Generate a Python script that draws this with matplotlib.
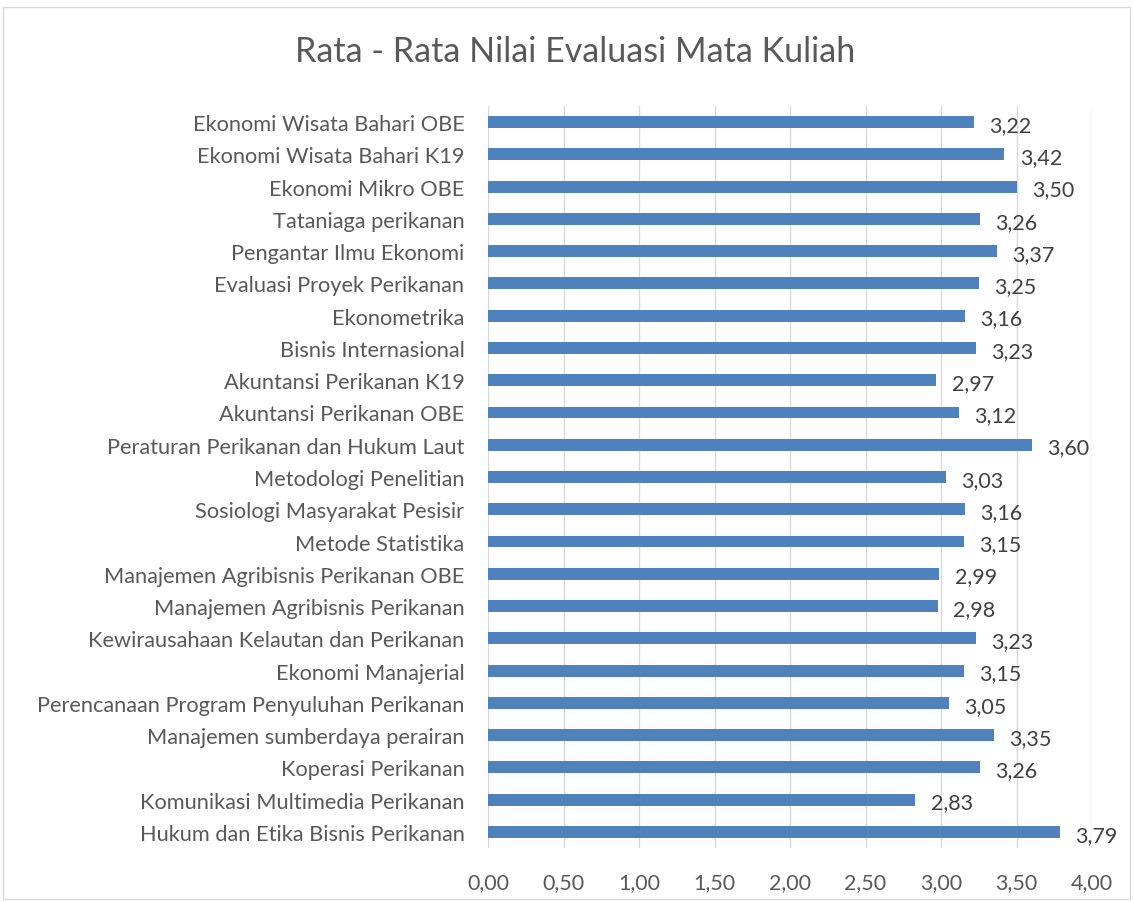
import matplotlib
matplotlib.use("Agg")
from matplotlib import pyplot as plt
from matplotlib.patches import Rectangle

courses = [
    "Ekonomi Wisata Bahari OBE",
    "Ekonomi Wisata Bahari K19",
    "Ekonomi Mikro OBE",
    "Tataniaga perikanan",
    "Pengantar Ilmu Ekonomi",
    "Evaluasi Proyek Perikanan",
    "Ekonometrika",
    "Bisnis Internasional",
    "Akuntansi Perikanan K19",
    "Akuntansi Perikanan OBE",
    "Peraturan Perikanan dan Hukum Laut",
    "Metodologi Penelitian",
    "Sosiologi Masyarakat Pesisir",
    "Metode Statistika",
    "Manajemen Agribisnis Perikanan OBE",
    "Manajemen Agribisnis Perikanan",
    "Kewirausahaan Kelautan dan Perikanan",
    "Ekonomi Manajerial",
    "Perencanaan Program Penyuluhan Perikanan",
    "Manajemen sumberdaya perairan",
    "Koperasi Perikanan",
    "Komunikasi Multimedia Perikanan",
    "Hukum dan Etika Bisnis Perikanan",
]
scores = [3.22, 3.42, 3.50, 3.26, 3.37, 3.25, 3.16, 3.23, 2.97, 3.12, 3.60,
          3.03, 3.16, 3.15, 2.99, 2.98, 3.23, 3.15, 3.05, 3.35, 3.26, 2.83, 3.79]
xticks = [0.0, 0.5, 1.0, 1.5, 2.0, 2.5, 3.0, 3.5, 4.0]

plt.rcParams['font.family'] = ['Lato', 'DejaVu Sans']

W, H = 1133, 903
fig = plt.figure(figsize=(W / 100, H / 100), dpi=100)
fig.patches.append(Rectangle((3 / W, 1 - 900 / H), 1127 / W, 892 / H,
                             transform=fig.transFigure, fill=False,
                             edgecolor='#D9D9D9', linewidth=1))

ax = fig.add_axes([488 / W, 1 - 849 / H, (1092 - 488) / W, (849 - 107) / H])

ypos = list(range(len(courses)))[::-1]
ax.barh(ypos, scores, height=0.37, color='#4F81BD')
for y, v in zip(ypos, scores):
    ax.annotate(f"{v:.2f}".replace('.', ','), (v, y), xytext=(11, -2),
                textcoords='offset points', va='center', ha='left',
                fontsize=15.5, color='#404040')

ax.set_xlim(0, 4.0)
ax.set_ylim(-0.5, len(courses) - 0.5)
ax.set_xticks(xticks)
ax.set_xticklabels([f"{t:.2f}".replace('.', ',') for t in xticks])
ax.set_yticks(ypos)
ax.set_yticklabels(courses)
ax.tick_params(axis='both', length=0, labelcolor='#595959')
ax.tick_params(axis='x', pad=17, labelsize=15.5)
ax.tick_params(axis='y', pad=17, labelsize=15.7)
ax.xaxis.grid(True, color='#D9D9D9', linewidth=1)
ax.set_axisbelow(True)
for s in ax.spines.values():
    s.set_visible(False)

fig.text(575 / W, 1 - 52 / H, "Rata - Rata Nilai Evaluasi Mata Kuliah",
         ha='center', va='center', fontsize=24.5, color='#595959')

fig.savefig("out.png", dpi=100)
